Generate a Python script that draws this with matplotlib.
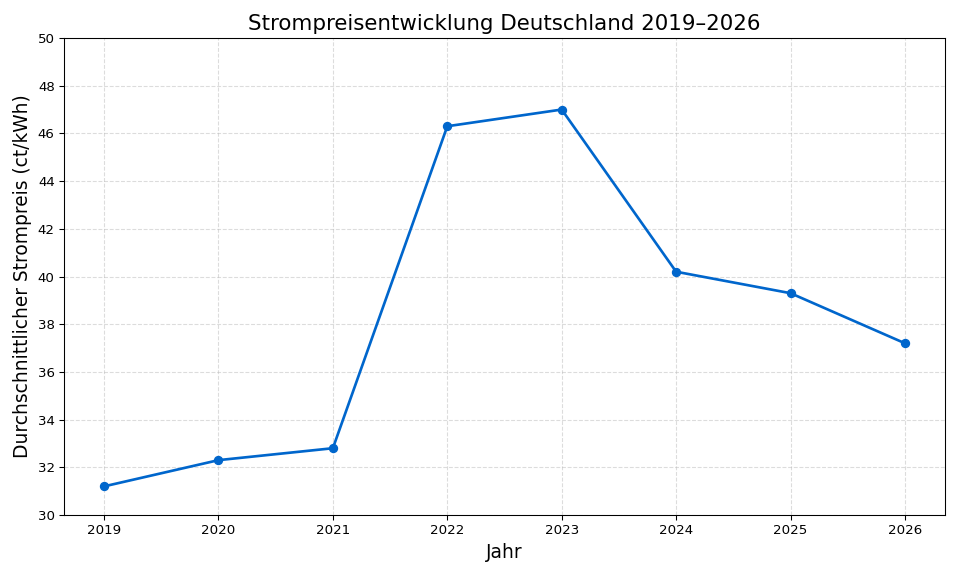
import matplotlib
matplotlib.use("Agg")
import matplotlib.pyplot as plt

years = [2019, 2020, 2021, 2022, 2023, 2024, 2025, 2026]
prices = [31.2, 32.3, 32.8, 46.3, 47.0, 40.2, 39.3, 37.2]

fig, ax = plt.subplots(figsize=(10, 6), dpi=96)
fig.subplots_adjust(left=64/960, right=945/960, top=1-38/576, bottom=1-515/576)
ax.plot(years, prices, color="#0066cc", linewidth=2, marker="o", markersize=6)
ax.set_title("Strompreisentwicklung Deutschland 2019–2026", fontsize=16)
ax.set_xlabel("Jahr", fontsize=14)
ax.set_ylabel("Durchschnittlicher Strompreis (ct/kWh)", fontsize=14)
ax.set_xticks(years)
ax.set_ylim(30, 50)
ax.set_yticks(range(30, 51, 2))
ax.grid(True, linestyle="--", alpha=0.5, color="#bbbbbb")
fig.savefig("out.png", dpi=96)
